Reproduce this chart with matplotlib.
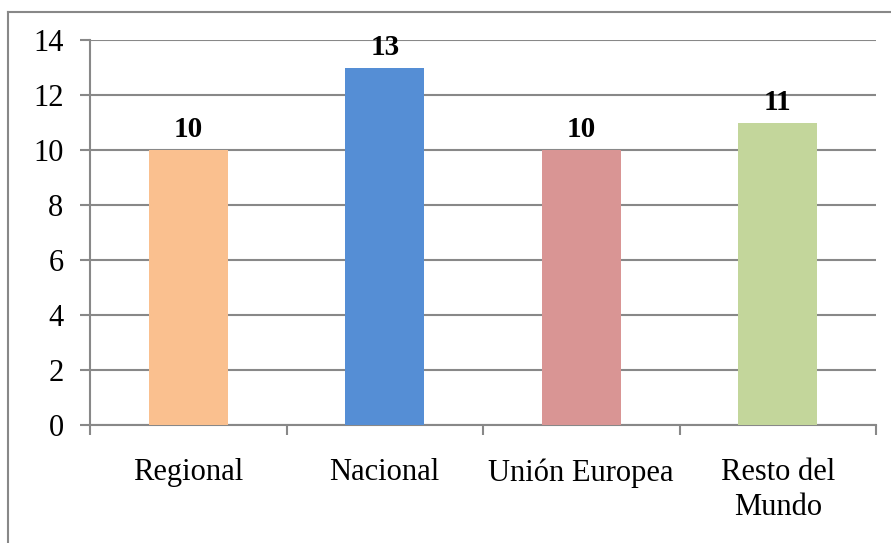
import matplotlib.pyplot as plt
import numpy as np
from matplotlib.lines import Line2D

plt.rcParams['font.family'] = ['Liberation Serif', 'DejaVu Serif']

categorias = ['Regional', 'Nacional', 'Unión Europea', 'Resto del\nMundo']
valores = [10, 13, 10, 11]
colores = ['#FAC08F', '#558ED5', '#D99594', '#C3D69B']
yticks = [0, 2, 4, 6, 8, 10, 12, 14]

fig = plt.figure(figsize=(8.91, 5.43), dpi=100)
ax = fig.add_axes([90/891, 1-425/543, (876-90)/891, (425-40)/543])

x = np.arange(len(categorias))
barras = ax.bar(x, valores, width=0.40, color=colores, zorder=3)

for xi, v in zip(x, valores):
    ax.text(xi, v + 0.25, str(v), ha='center', va='bottom',
            fontsize=21, fontweight='bold', zorder=4)

ax.set_xlim(-0.5, len(categorias) - 0.5)
ax.set_ylim(0, 14)
ax.set_yticks(yticks)
ax.yaxis.grid(True, color='#888888', linewidth=1.5, zorder=0)
ax.set_axisbelow(True)

# marcas del eje x entre categorias
ax.set_xticks(np.arange(-0.5, len(categorias)), minor=False)
ax.set_xticklabels([])
ax.set_xticks(x, minor=True)
ax.set_xticklabels(categorias, minor=True, fontsize=22, linespacing=1.25)
ax.tick_params(axis='x', which='major', length=7, width=1.5, color='#888888')
ax.tick_params(axis='x', which='minor', length=0, pad=24)
ax.tick_params(axis='y', length=7, width=1.5, color='#888888', labelsize=22, pad=12)

for s in ['top', 'right']:
    ax.spines[s].set_visible(False)
for s in ['left', 'bottom']:
    ax.spines[s].set_color('#888888')
    ax.spines[s].set_linewidth(1.5)

# borde del grafico
fig.add_artist(Line2D([8/891, 8/891], [0, 1-12/543], color='#888888', lw=1.5))
fig.add_artist(Line2D([8/891, 1], [1-12/543, 1-12/543], color='#888888', lw=1.5))

fig.savefig('out.png', dpi=100)
